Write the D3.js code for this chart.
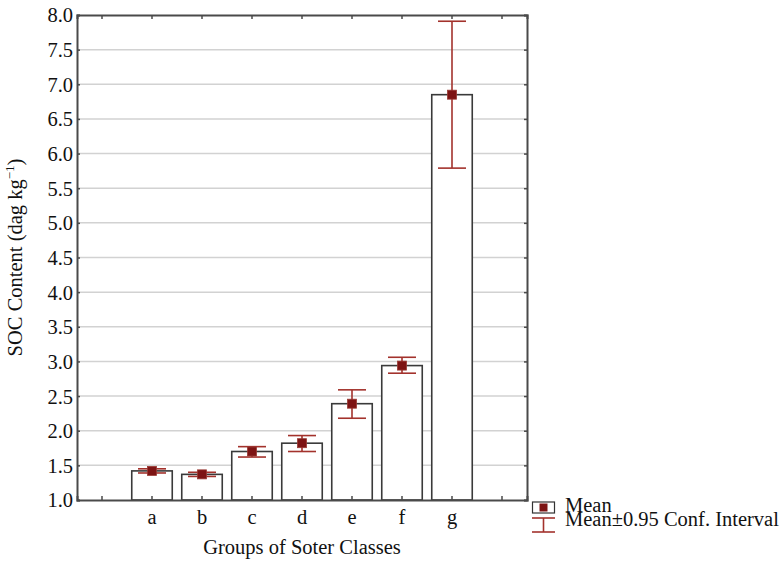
<!DOCTYPE html>
<html><head><meta charset="utf-8">
<script src="https://cdn.jsdelivr.net/npm/d3@7"></script>
<style>
html,body{margin:0;padding:0;background:#fff;}
svg{display:block;font-family:"Liberation Serif","Times New Roman",serif;}
</style></head>
<body>
<svg id="chart" width="783" height="562"></svg>
<script>
const categories = ["a","b","c","d","e","f","g"];
const means = [1.42, 1.37, 1.70, 1.82, 2.39, 2.94, 6.85];
const ciLow = [1.39, 1.34, 1.62, 1.70, 2.18, 2.83, 5.79];
const ciHigh = [1.45, 1.40, 1.77, 1.93, 2.59, 3.06, 7.91];
const yTicks = [1.0,1.5,2.0,2.5,3.0,3.5,4.0,4.5,5.0,5.5,6.0,6.5,7.0,7.5,8.0];

(function(){
const svg = d3.select("#chart");
const m = {left:77, right:527, top:15, bottom:500};
const slots = ["_l", ...categories, "_r"];
const x = d3.scaleBand().domain(slots).range([m.left, m.right]).padding(0);
const y = d3.scaleLinear().domain([1, 8]).range([m.bottom, m.top]);
const fs = 20.5;
const frame = "#4a4a4a";
const red = "#7d1414";
const errC = "#a3322c";

// gridlines
svg.append("g").selectAll("line").data(yTicks.filter(v => v > 1 && v < 8)).join("line")
  .attr("x1", m.left).attr("x2", m.right)
  .attr("y1", d => y(d)).attr("y2", d => y(d))
  .attr("stroke", "#d2d2d2").attr("stroke-width", 1.5);

// bars
const data = categories.map((c, i) => ({c, m: means[i], lo: ciLow[i], hi: ciHigh[i]}));
const bw = x.bandwidth() * 0.81;
svg.append("g").selectAll("rect").data(data).join("rect")
  .attr("x", d => x(d.c) + (x.bandwidth() - bw) / 2)
  .attr("width", bw)
  .attr("y", d => y(d.m))
  .attr("height", d => y(1) - y(d.m))
  .attr("fill", "#fff").attr("stroke", "#3a3a3a").attr("stroke-width", 1.6);

// axes (frame)
const tickFmt = d => (d.startsWith("_") ? "" : d);
const gB = svg.append("g").attr("transform", `translate(0,${m.bottom})`)
  .call(d3.axisBottom(x).tickSize(-4).tickFormat(tickFmt).tickPadding(24));
const gT = svg.append("g").attr("transform", `translate(0,${m.top})`)
  .call(d3.axisTop(x).tickSize(-4).tickFormat(""));
const gL = svg.append("g").attr("transform", `translate(${m.left},0)`)
  .call(d3.axisLeft(y).tickValues(yTicks).tickSize(-3).tickFormat(d3.format(".1f")).tickPadding(4));
const gR = svg.append("g").attr("transform", `translate(${m.right},0)`)
  .call(d3.axisRight(y).tickValues(yTicks).tickSize(-3).tickFormat(""));
[gB, gT, gL, gR].forEach(g => {
  g.attr("font-family", null).attr("font-size", null);
  g.select(".domain").attr("stroke", frame).attr("stroke-width", 2);
  g.selectAll(".tick line").attr("stroke", frame).attr("stroke-width", 1.5);
  g.selectAll("text").attr("font-family", "Liberation Serif").attr("font-size", fs).attr("fill", "#111");
});
gB.selectAll("text").attr("dy", "0");
gL.selectAll("text").attr("dy", "0.34em");

// error bars
const cap = 28;
const eb = svg.append("g").attr("stroke", errC).attr("stroke-width", 1.6);
const cx = d => x(d.c) + x.bandwidth()/2;
eb.selectAll("line.v").data(data).join("line").attr("class", "v")
  .attr("x1", cx).attr("x2", cx)
  .attr("y1", d => y(d.lo)).attr("y2", d => y(d.hi));
eb.selectAll("line.t").data(data).join("line").attr("class", "t")
  .attr("x1", d => cx(d) - cap/2).attr("x2", d => cx(d) + cap/2)
  .attr("y1", d => y(d.hi)).attr("y2", d => y(d.hi));
eb.selectAll("line.b").data(data).join("line").attr("class", "b")
  .attr("x1", d => cx(d) - cap/2).attr("x2", d => cx(d) + cap/2)
  .attr("y1", d => y(d.lo)).attr("y2", d => y(d.lo));

// markers
const ms = 9;
svg.append("g").selectAll("rect").data(data).join("rect")
  .attr("x", d => cx(d) - ms/2)
  .attr("y", d => y(d.m) - ms/2)
  .attr("width", ms).attr("height", ms)
  .attr("fill", red).attr("stroke", "#9a3a34").attr("stroke-width", 0.8);

// axis titles
svg.append("text").attr("x", (m.left + m.right)/2).attr("y", 554)
  .attr("text-anchor", "middle").attr("font-size", fs).attr("fill", "#111")
  .text("Groups of Soter Classes");
const yl = svg.append("text").attr("transform", `translate(22,${(m.top + m.bottom)/2}) rotate(-90)`)
  .attr("text-anchor", "middle").attr("font-size", fs).attr("fill", "#111");
yl.append("tspan").text("SOC Content (dag kg");
yl.append("tspan").attr("dy", -8).attr("font-size", 13).text("\u22121");
yl.append("tspan").attr("dy", 8).text(")");

// legend
const lg = svg.append("g");
lg.append("rect").attr("x", 532.5).attr("y", 502).attr("width", 22).attr("height", 11)
  .attr("fill", "#fff").attr("stroke", "#333").attr("stroke-width", 1.2);
lg.append("rect").attr("x", 539.5).attr("y", 503.5).attr("width", 8).attr("height", 8).attr("fill", red);
lg.append("text").attr("x", 565).attr("y", 511.5).attr("font-size", fs).attr("fill", "#111").text("Mean");
const le = lg.append("g").attr("stroke", errC).attr("stroke-width", 1.6);
le.append("line").attr("x1", 532).attr("x2", 555).attr("y1", 518).attr("y2", 518);
le.append("line").attr("x1", 532).attr("x2", 555).attr("y1", 532).attr("y2", 532);
le.append("line").attr("x1", 543.5).attr("x2", 543.5).attr("y1", 518).attr("y2", 532);
lg.append("text").attr("x", 565).attr("y", 525.5).attr("font-size", fs).attr("fill", "#111").text("Mean\u00b10.95 Conf. Interval");
})();
</script>
</body></html>
